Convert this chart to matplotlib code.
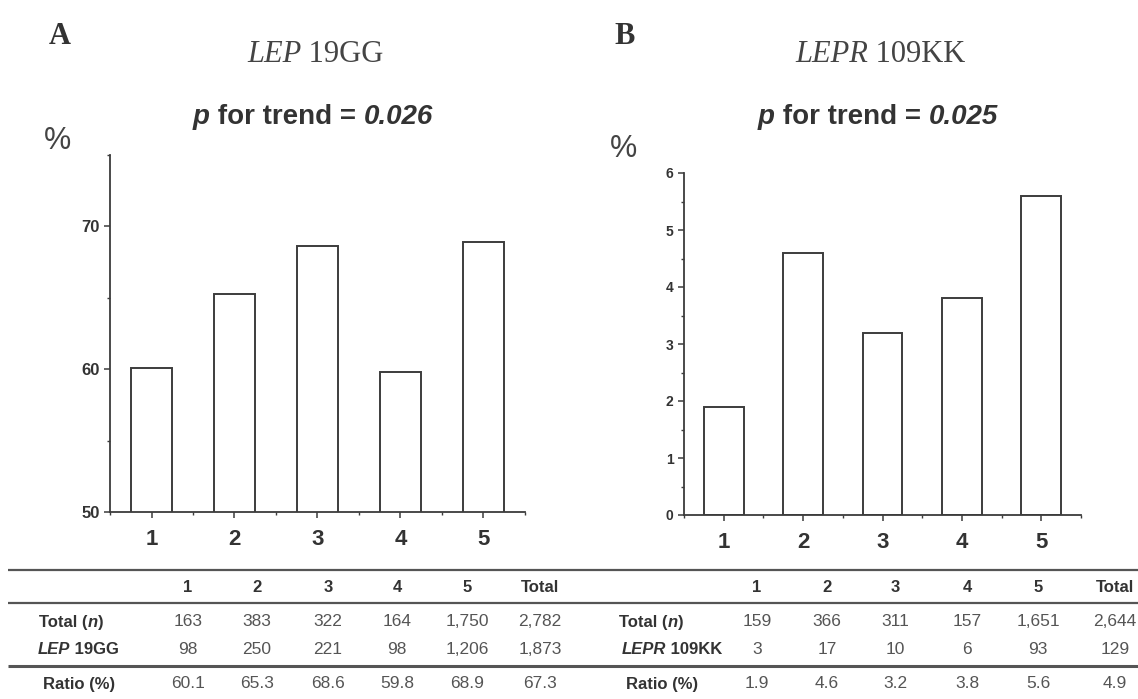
import matplotlib
matplotlib.use("Agg")
import matplotlib.pyplot as plt
from matplotlib.ticker import MultipleLocator

# ---------------- data ----------------
groups = [1, 2, 3, 4, 5]
lep_ratio = [60.1, 65.3, 68.6, 59.8, 68.9]
lepr_ratio = [1.9, 4.6, 3.2, 3.8, 5.6]

table_header = ["1", "2", "3", "4", "5", "Total"]
lep_total_n = [163, 383, 322, 164, 1750, 2782]
lep_19gg = [98, 250, 221, 98, 1206, 1873]
lep_ratio_row = [60.1, 65.3, 68.6, 59.8, 68.9, 67.3]
lepr_total_n = [159, 366, 311, 157, 1651, 2644]
lepr_109kk = [3, 17, 10, 6, 93, 129]
lepr_ratio_row = [1.9, 4.6, 3.2, 3.8, 5.6, 4.9]

W, H = 1138, 699
SANS = "Liberation Sans"
SERIF = "Liberation Serif"
LINE = "#3c3c3c"
TXT = "#333333"
NUM = "#555555"

fig = plt.figure(figsize=(W / 100, H / 100), dpi=100)
fig.patch.set_facecolor("white")

ov = fig.add_axes([0, 0, 1, 1], zorder=-1)
ov.set_xlim(0, W)
ov.set_ylim(H, 0)
ov.axis("off")


def rich(x, y, pieces, size, family, color=TXT):
    """pieces: list of (text, weight, style); x = left, y = baseline (pixels)"""
    prev = None
    for s, weight, style in pieces:
        kw = dict(fontsize=size, family=family, fontweight=weight,
                  fontstyle=style, color=color)
        if prev is None:
            prev = ov.text(x, y, s, ha="left", va="baseline", **kw)
        else:
            prev = ov.annotate(s, xy=(1, 0), xycoords=prev, va="bottom",
                               ha="left", **kw)
    return prev


def style_axes(ax, ylo, yhi, ymaj, ymin, ylabsize):
    ax.set_xlim(0.5, 5.5)
    ax.set_ylim(ylo, yhi)
    for s in ["top", "right"]:
        ax.spines[s].set_visible(False)
    for s in ["left", "bottom"]:
        ax.spines[s].set_color(LINE)
        ax.spines[s].set_linewidth(1.3)
    ax.set_xticks(groups)
    ax.xaxis.set_minor_locator(MultipleLocator(0.5))
    ax.yaxis.set_major_locator(MultipleLocator(ymaj))
    ax.yaxis.set_minor_locator(MultipleLocator(ymin))
    ax.tick_params(axis="both", which="major", direction="out", length=4,
                   width=1.1, color=LINE)
    ax.tick_params(axis="both", which="minor", direction="out", length=2.5,
                   width=1.0, color=LINE)
    ax.tick_params(axis="x", which="major", pad=8)
    ax.tick_params(axis="y", which="major", pad=3.5)
    for lab in ax.get_xticklabels():
        lab.set_fontfamily(SANS)
        lab.set_fontweight("bold")
        lab.set_fontsize(16)
        lab.set_color(TXT)
    for lab in ax.get_yticklabels():
        lab.set_fontfamily(SANS)
        lab.set_fontweight("bold")
        lab.set_fontsize(ylabsize)
        lab.set_color(TXT)


# ---------------- panel A ----------------
axA = fig.add_axes([110 / W, 1 - 512 / H, 415 / W, 357 / H])
axA.bar(groups, lep_ratio, width=0.5, facecolor="white", edgecolor=LINE,
        linewidth=1.4)
style_axes(axA, 50, 75, 10, 5, 12)

# ---------------- panel B ----------------
axB = fig.add_axes([684 / W, 1 - 515 / H, 397 / W, 342 / H])
axB.bar(groups, lepr_ratio, width=0.5, facecolor="white", edgecolor=LINE,
        linewidth=1.4)
style_axes(axB, 0, 6, 1, 0.5, 10)

# ---------------- headings ----------------
ov.text(60, 44, "A", fontsize=22, family=SERIF, fontweight="bold",
        color=TXT, ha="center", va="baseline")
ov.text(625, 44, "B", fontsize=22, family=SERIF, fontweight="bold",
        color=TXT, ha="center", va="baseline")

rich(247, 62, [("LEP", "normal", "italic"), (" 19GG", "normal", "normal")],
     22, SERIF, color="#444444")
rich(795, 62, [("LEPR", "normal", "italic"), (" 109KK", "normal", "normal")],
     22, SERIF, color="#444444")

rich(193, 124, [("p", "bold", "italic"), (" for trend = ", "bold", "normal"),
                ("0.026", "bold", "italic")], 20, SANS)
rich(758, 124, [("p", "bold", "italic"), (" for trend = ", "bold", "normal"),
                ("0.025", "bold", "italic")], 20, SANS)

ov.text(58, 141, "%", fontsize=22, family=SANS, color="#444444",
        ha="center", va="center")
ov.text(624, 149, "%", fontsize=22, family=SANS, color="#444444",
        ha="center", va="center")

# ---------------- table ----------------
for yy, lw in [(570, 1.6), (603, 1.6), (666, 2.2)]:
    ov.plot([8, W], [yy, yy], color="#555555", lw=lw, solid_capstyle="butt")

row_y = {"head": 587, "n": 622, "g": 649, "r": 684}
left_cols = [188, 257, 328, 397, 467, 540]
right_cols = [757, 827, 895, 967, 1038, 1115]


def fmt(v):
    if isinstance(v, float):
        return f"{v:.1f}"
    return f"{v:,}"


def table_block(cols, n_vals, g_vals, r_vals):
    for cx, h in zip(cols, table_header):
        ov.text(cx, row_y["head"], h, family=SANS, fontweight="bold",
                fontsize=12, color=TXT, ha="center", va="center")
    for key, vals in (("n", n_vals), ("g", g_vals), ("r", r_vals)):
        for cx, v in zip(cols, vals):
            ov.text(cx, row_y[key], fmt(v), family=SANS, fontsize=12.5,
                    color=NUM, ha="center", va="center")


table_block(left_cols, lep_total_n, lep_19gg, lep_ratio_row)
table_block(right_cols, lepr_total_n, lepr_109kk, lepr_ratio_row)

rich(39, 627, [("Total (", "bold", "normal"), ("n", "bold", "italic"),
               (")", "bold", "normal")], 12, SANS)
rich(38, 654, [("LEP", "bold", "italic"), (" 19GG", "bold", "normal")], 12, SANS)
rich(619, 627, [("Total (", "bold", "normal"), ("n", "bold", "italic"),
                (")", "bold", "normal")], 12, SANS)
rich(622, 654, [("LEPR", "bold", "italic"), (" 109KK", "bold", "normal")], 12, SANS)

for lx in (79, 662):
    ov.text(lx, row_y["r"], "Ratio (%)", family=SANS, fontweight="bold",
            fontsize=12, color=TXT, ha="center", va="center")

fig.savefig("out.png", dpi=100, facecolor="white")
